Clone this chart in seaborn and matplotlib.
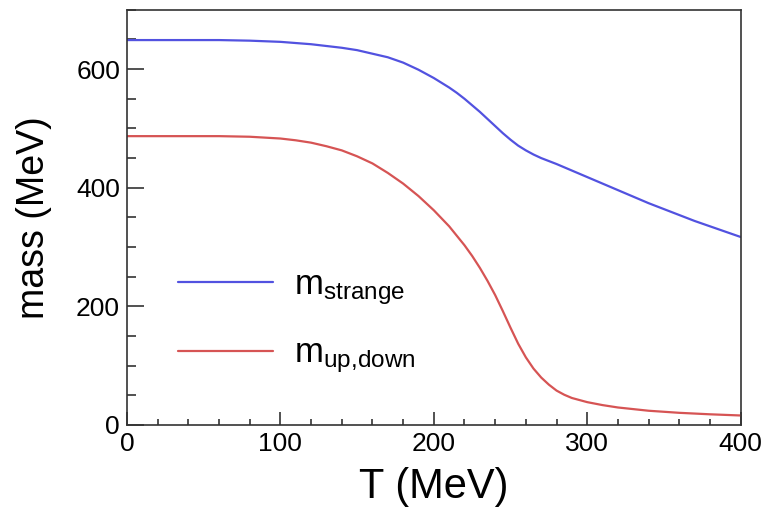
import pandas as pd
import seaborn as sns
import matplotlib.pyplot as plt
from matplotlib.ticker import MultipleLocator

# Data (T in MeV, masses in MeV)
t_strange = [0, 20, 40, 60, 80, 100, 110, 120, 130, 140, 150, 160, 170, 180, 190, 200,
             210, 215, 220, 225, 230, 235, 240, 245, 250, 255, 260, 265, 270, 275, 280, 290,
             300, 310, 320, 330, 340, 350, 360, 370, 380, 390, 400]
m_strange = [649, 649, 649, 649, 648, 646, 644, 642, 639, 636, 632, 626, 620, 611, 599, 585,
             569, 560, 550, 539, 528, 516, 504, 492, 481, 471, 463, 456, 450, 445, 440, 429,
             418, 407, 396, 385, 374, 364, 354, 344, 335, 326, 317]

t_updown = [0, 20, 40, 60, 80, 100, 110, 120, 130, 140, 150, 160, 170, 180, 190, 200, 210,
            220, 225, 230, 235, 240, 245, 250, 255, 260, 265, 270, 275, 280, 285, 290, 300,
            310, 320, 340, 360, 380, 400]
m_updown = [487, 487, 487, 487, 486, 483, 480, 476, 470, 463, 453, 441, 425, 407, 386, 362, 335,
            303, 285, 265, 243, 219, 192, 164, 137, 114, 95, 80, 68, 58, 51, 45.5, 38.5,
            33.5, 29.5, 24, 20.5, 18, 16]

lab_s = r"$\mathregular{m_{strange}}$"
lab_ud = r"$\mathregular{m_{up{,}down}}$"

df = pd.concat([
    pd.DataFrame({"T": t_strange, "mass": m_strange, "quark": lab_s}),
    pd.DataFrame({"T": t_updown, "mass": m_updown, "quark": lab_ud}),
])

sns.set_theme(style="ticks")
plt.rcParams['font.family'] = ['Liberation Sans', 'DejaVu Sans']
plt.rcParams['mathtext.fontset'] = 'custom'
plt.rcParams['mathtext.rm'] = 'Liberation Sans'
plt.rcParams['text.color'] = 'black'
plt.rcParams['axes.labelcolor'] = 'black'

fig = plt.figure(figsize=(7.67, 5.17), dpi=100)
ax = fig.add_axes([0.1656, 0.178, 0.8, 0.803])

sns.lineplot(data=df, x="T", y="mass", hue="quark", ax=ax, linewidth=1.6,
             palette={lab_s: "#5252e0", lab_ud: "#d65454"}, sort=False)

ax.set_xlim(0, 400)
ax.set_ylim(0, 700)
ax.xaxis.set_major_locator(MultipleLocator(100))
ax.xaxis.set_minor_locator(MultipleLocator(20))
ax.yaxis.set_major_locator(MultipleLocator(200))
ax.yaxis.set_minor_locator(MultipleLocator(50))

# ROOT-ish ticks: inward, left and bottom only
ax.tick_params(axis="both", which="both", direction="in", top=False, right=False,
               labelsize=19, colors="#222222", labelcolor="black", width=1.1)
ax.tick_params(axis="x", which="major", length=9.5, pad=5)
ax.tick_params(axis="x", which="minor", length=4.5)
ax.tick_params(axis="y", which="major", length=12, pad=5)
ax.tick_params(axis="y", which="minor", length=6.5)
for s in ax.spines.values():
    s.set_visible(True)
    s.set_linewidth(1.2)
    s.set_color("#333333")

ax.set_xlabel("T (MeV)", fontsize=30, labelpad=8)
ax.set_ylabel("mass (MeV)", fontsize=27, labelpad=17)

ax.legend(frameon=False, fontsize=25, loc="upper left", bbox_to_anchor=(0.083, 0.377),
          handlelength=2.75, handletextpad=0.6, labelspacing=0.85, borderpad=0, borderaxespad=0)

fig.savefig("out.png", dpi=100)
